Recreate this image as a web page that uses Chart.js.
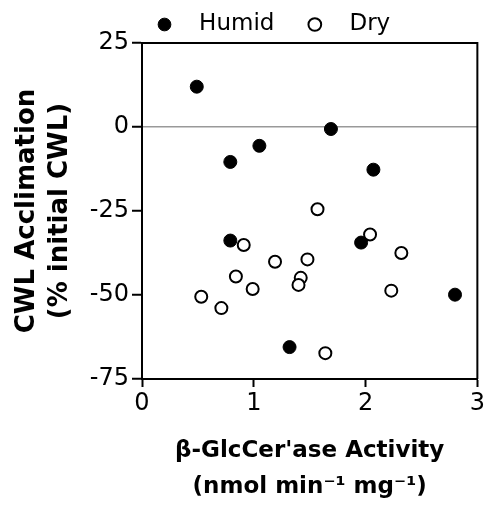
<!DOCTYPE html>
<html lang="en">
<head>
    <meta charset="UTF-8">
    <title>CWL acclimation vs GlcCer'ase activity</title>
    <script src="https://cdn.jsdelivr.net/npm/chart.js"></script>
    <style>
        body { margin: 0; background: #fff; }
        #chart { display: block; }
    </style>
</head>
<body>
    <canvas id="chart" width="487" height="515"></canvas>
    <script>
        // values
        const humidX = [0.49, 1.69, 1.05, 0.79, 2.07, 0.79, 1.96, 2.80, 1.32];
        const humidY = [12.0, -0.6, -5.6, -10.4, -12.7, -33.8, -34.4, -49.9, -65.5];
        const dryX = [1.57, 2.04, 0.91, 2.32, 1.19, 1.48, 0.84, 1.42, 1.40, 0.99, 2.23, 0.53, 0.71, 1.64];
        const dryY = [-24.5, -32.0, -35.1, -37.5, -40.1, -39.4, -44.5, -44.9, -47.0, -48.2, -48.7, -50.5, -53.9, -67.3];
        const xTicks = [0, 1, 2, 3];
        const yTicks = [-75, -50, -25, 0, 25];

        function toPoints(xs, ys) {
            return xs.map((x, i) => ({ x: x, y: ys[i] }));
        }

        // box round the plot area
        const frame = {
            id: 'frame',
            beforeDraw(chart) {
                // put the legend over the plot, like the original
                chart.legend.left = 146;
                chart.legend.top = 3;
            },
            beforeDatasetsDraw(chart) {
                const a = chart.chartArea;
                const ctx = chart.ctx;
                ctx.save();
                ctx.strokeStyle = '#000';
                ctx.lineWidth = 2;
                ctx.beginPath();
                ctx.moveTo(a.left, a.top);
                ctx.lineTo(a.right, a.top);
                ctx.lineTo(a.right, a.bottom);
                ctx.stroke();
                ctx.restore();
            }
        };

        Chart.defaults.font.family = "'DejaVu Sans', sans-serif";
        Chart.defaults.color = '#000';

        new Chart(document.getElementById('chart'), {
            type: 'scatter',
            data: {
                datasets: [
                    {
                        label: 'Humid',
                        data: toPoints(humidX, humidY),
                        backgroundColor: '#000',
                        borderColor: '#000',
                        borderWidth: 1,
                        pointRadius: 6.5,
                        order: 1
                    },
                    {
                        label: 'Dry',
                        data: toPoints(dryX, dryY),
                        backgroundColor: '#fff',
                        borderColor: '#000',
                        borderWidth: 2,
                        pointRadius: 6,
                        order: 0
                    }
                ]
            },
            options: {
                responsive: false,
                animation: false,
                layout: { padding: { left: 0, right: 9, top: 0, bottom: 0 } },
                plugins: {
                    tooltip: { enabled: false },
                    legend: {
                        position: 'top',
                        align: 'start',
                        labels: {
                            usePointStyle: true,
                            pointStyle: 'circle',
                            boxWidth: 17,
                            boxHeight: 9,
                            padding: 10,
                            font: { size: 23 },
                            generateLabels(chart) {
                                const items = Chart.defaults.plugins.legend.labels.generateLabels(chart);
                                items.sort((a, b) => a.datasetIndex - b.datasetIndex);
                                items.forEach((it, i) => {
                                    it.text = '  ' + it.text + (i === 0 ? '   ' : '');
                                });
                                return items;
                            }
                        }
                    }
                },
                scales: {
                    x: {
                        type: 'linear',
                        min: 0,
                        max: 3,
                        afterBuildTicks(scale) {
                            scale.ticks = xTicks.map(v => ({ value: v }));
                        },
                        afterFit(scale) {
                            scale.height = 136;
                        },
                        border: { color: '#000', width: 2 },
                        grid: {
                            drawOnChartArea: false,
                            tickColor: '#000',
                            tickWidth: 2,
                            tickLength: 8
                        },
                        ticks: { font: { size: 24 }, padding: 2 },
                        title: {
                            display: true,
                            text: ["\u03b2-GlcCer'ase Activity", '(nmol min\u207b\u00b9 mg\u207b\u00b9)'],
                            font: { size: 23, weight: 'bold', lineHeight: 1.55 },
                            padding: { top: 0, bottom: 10 }
                        }
                    },
                    y: {
                        type: 'linear',
                        min: -75,
                        max: 25,
                        afterBuildTicks(scale) {
                            scale.ticks = yTicks.map(v => ({ value: v }));
                        },
                        afterFit(scale) {
                            scale.width = 142;
                        },
                        border: { color: '#000', width: 2 },
                        grid: {
                            color: ctx => (ctx.tick && ctx.tick.value === 0) ? '#999' : 'rgba(0,0,0,0)',
                            lineWidth: 1.5,
                            tickColor: '#000',
                            tickWidth: 2,
                            tickLength: 10
                        },
                        ticks: { font: { size: 24 }, padding: 3 },
                        title: {
                            display: true,
                            text: ['CWL Acclimation', '(% initial CWL)'],
                            font: { size: 26, weight: 'bold', lineHeight: 1.27 },
                            padding: { top: 11, bottom: 0 }
                        }
                    }
                }
            },
            plugins: [frame]
        });
    </script>
</body>
</html>
